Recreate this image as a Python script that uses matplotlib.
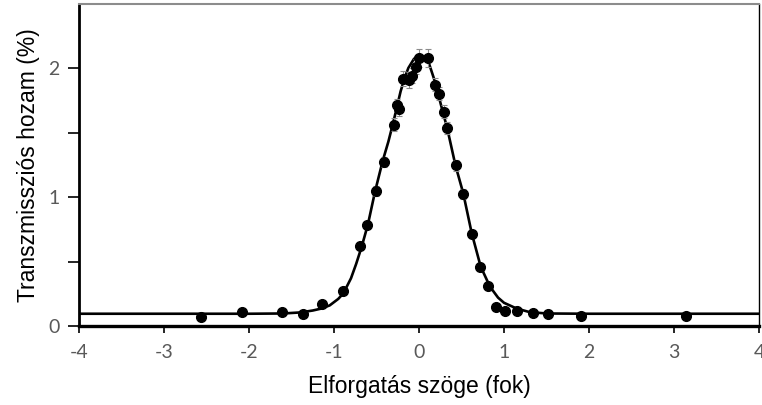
import numpy as np
import matplotlib.pyplot as plt

plt.rcParams["font.family"] = ["Lato", "DejaVu Sans"]

# measured points (angle in degrees, transmission yield in %)
angle = [-2.56, -2.08, -1.61, -1.36, -1.14, -0.89, -0.70, -0.61, -0.51, -0.415,
         -0.29, -0.26, -0.235, -0.19, -0.12, -0.08, -0.04, 0.0, 0.10, 0.19,
         0.235, 0.29, 0.33, 0.43, 0.52, 0.62, 0.718, 0.815, 0.906, 1.016,
         1.15, 1.337, 1.52, 1.906, 3.14]
yield_pct = [0.07, 0.11, 0.105, 0.095, 0.17, 0.274, 0.62, 0.78, 1.046, 1.27,
             1.56, 1.71, 1.68, 1.917, 1.907, 1.94, 2.01, 2.08, 2.075, 1.87,
             1.80, 1.66, 1.535, 1.245, 1.025, 0.713, 0.455, 0.307, 0.147, 0.119,
             0.116, 0.098, 0.093, 0.078, 0.075]
yield_err = [0.01, 0.01, 0.01, 0.01, 0.01, 0.02, 0.03, 0.03, 0.04, 0.04,
             0.05, 0.05, 0.05, 0.06, 0.06, 0.06, 0.06, 0.07, 0.07, 0.05,
             0.05, 0.05, 0.05, 0.04, 0.04, 0.03, 0.03, 0.02, 0.01, 0.01,
             0.01, 0.01, 0.01, 0.01, 0.01]

# fitted curve
fit_x = [-4.0, -2.0, -1.6, -1.4, -1.25, -1.15, -1.05, -0.95, -0.89, -0.80,
         -0.74, -0.674, -0.60, -0.518, -0.427, -0.36, -0.302, -0.216, -0.16, -0.125,
         -0.06, -0.008, 0.05, 0.11, 0.19, 0.26, 0.333, 0.428, 0.52, 0.62,
         0.726, 0.835, 0.93, 1.0, 1.15, 1.3, 1.5, 2.0, 4.0]
fit_y = [0.095, 0.095, 0.097, 0.105, 0.12, 0.135, 0.16, 0.21, 0.253, 0.37,
         0.48, 0.615, 0.79, 1.04, 1.28, 1.43, 1.58, 1.82, 1.94, 2.0,
         2.07, 2.10, 2.09, 2.05, 1.89, 1.71, 1.53, 1.248, 1.03, 0.72,
         0.46, 0.305, 0.22, 0.18, 0.135, 0.108, 0.097, 0.095, 0.095]

x_ticks = [-4, -3, -2, -1, 0, 1, 2, 3, 4]
y_ticks = [0, 1, 2]
y_minor = [0.5, 1.5]

fig = plt.figure(figsize=(7.62, 4.05), dpi=100)
ax = fig.add_axes([79 / 762, 1 - 326 / 405, 680 / 762, 322.5 / 405])

ax.plot(fit_x, fit_y, color="black", linewidth=1.9, zorder=2)
ax.errorbar(angle, yield_pct, yerr=yield_err, fmt="o", color="black",
            markersize=7, ecolor="#8c8c8c", elinewidth=0.8, capsize=2.5,
            capthick=0.8, zorder=3)

ax.set_xlim(-4, 4)
ax.set_ylim(0, 2.5)
ax.set_xticks(x_ticks)
ax.set_xticklabels([str(t) for t in x_ticks])
ax.set_yticks(y_ticks)
ax.set_yticklabels([str(t) for t in y_ticks])
ax.set_yticks(y_minor, minor=True)

ax.tick_params(axis="x", direction="out", length=5, width=1.2, pad=8,
               labelsize=14, labelcolor="#595959")
ax.tick_params(axis="y", which="both", direction="out", length=8, width=1.2, pad=6,
               labelsize=14, labelcolor="#595959")

ax.spines["left"].set_linewidth(2.0)
ax.spines["bottom"].set_linewidth(2.4)
ax.spines["right"].set_linewidth(1.0)
ax.spines["top"].set_linewidth(1.5)
ax.spines["top"].set_color("#8c8c8c")

ax.set_xlabel("Elforgatás szöge (fok)", family="Liberation Sans", fontsize=16.5,
              labelpad=10)
ax.set_ylabel("Transzmissziós hozam (%)", family="Liberation Sans", fontsize=16.5,
              labelpad=6)

plt.savefig("out.png", dpi=100)
